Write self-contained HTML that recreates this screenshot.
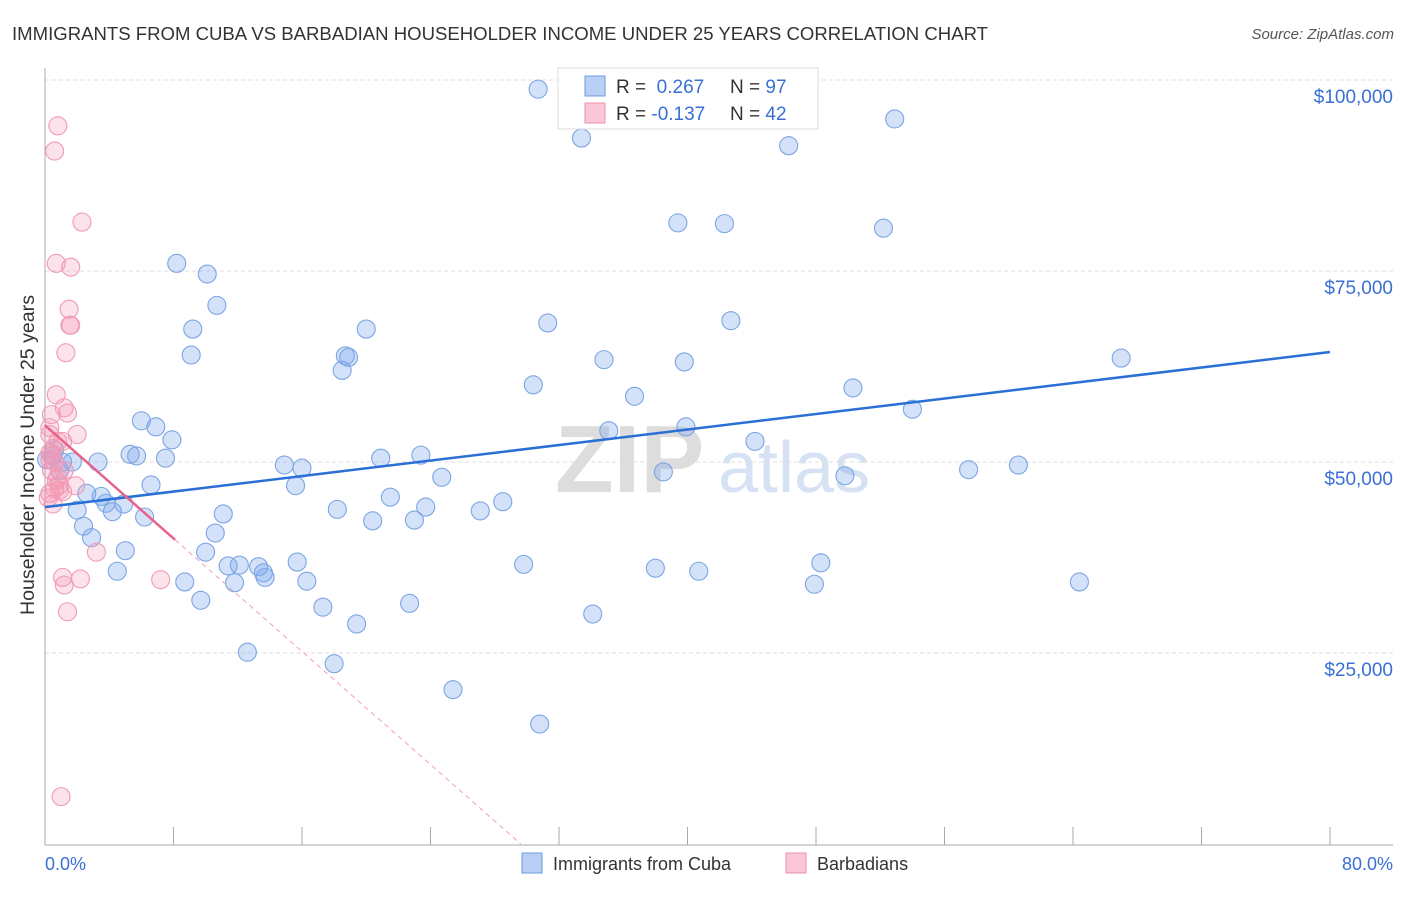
<!DOCTYPE html>
<html><head><meta charset="utf-8"><style>
body{margin:0;background:#fff;font-family:"Liberation Sans",sans-serif;}
svg text{font-family:"Liberation Sans",sans-serif;}
</style></head><body>
<svg width="1406" height="892" viewBox="0 0 1406 892">
<text x="12" y="40" font-size="18" fill="#333" textLength="976" lengthAdjust="spacingAndGlyphs">IMMIGRANTS FROM CUBA VS BARBADIAN HOUSEHOLDER INCOME UNDER 25 YEARS CORRELATION CHART</text>
<text x="1394" y="39" font-size="15" fill="#555" font-style="italic" text-anchor="end">Source: ZipAtlas.com</text>
<g><text x="555" y="492" font-size="96" fill="#ddd" font-family="Liberation Serif" font-weight="bold">ZIP</text><text x="718" y="492" font-size="72" fill="#d6e2f4">atlas</text></g>
<g id="grid"></g><g id="axes"></g><g id="marks"></g>
<text transform="translate(34,455) rotate(-90)" font-size="19" fill="#333" text-anchor="middle" textLength="320" lengthAdjust="spacingAndGlyphs">Householder Income Under 25 years</text>
<text x="45" y="870" font-size="18" fill="#3a6fd6">0.0%</text>
<text x="1393" y="870" font-size="18" fill="#3a6fd6" text-anchor="end">80.0%</text>
<g>
<rect x="558" y="68" width="260" height="61" fill="#fff" stroke="#ddd"/>
<rect x="585" y="76" width="20" height="20" fill="#b9d0f5" stroke="#6d9be0"/>
<rect x="585" y="103" width="20" height="20" fill="#fbc7d6" stroke="#ee8fae"/>
<text x="616" y="93" font-size="19" fill="#333">R = <tspan fill="#3a6fd6">&#160;0.267</tspan></text>
<text x="730" y="93" font-size="19" fill="#333">N = <tspan fill="#3a6fd6">97</tspan></text>
<text x="616" y="120" font-size="19" fill="#333">R = <tspan fill="#3a6fd6">-0.137</tspan></text>
<text x="730" y="120" font-size="19" fill="#333">N = <tspan fill="#3a6fd6">42</tspan></text>
</g>
<g>
<rect x="522" y="853" width="20" height="20" fill="#b9d0f5" stroke="#6d9be0"/>
<text x="553" y="870" font-size="18" fill="#333">Immigrants from Cuba</text>
<rect x="786" y="853" width="20" height="20" fill="#fbc7d6" stroke="#ee8fae"/>
<text x="817" y="870" font-size="18" fill="#333">Barbadians</text>
</g>
</svg>
<script>
const yTicks=[25000,50000,75000,100000];
const yTickLabels=["$25,000","$50,000","$75,000","$100,000"];
const xTicks=[0,8,16,24,32,40,48,56,64,72,80];
const cubaX=[30.7,33.4,46.3,52.9,39.4,42.3,52.2,8.2,10.1,10.7,9.2,9.1,20.0,31.3,42.7,18.7,18.9,18.5,34.8,39.8,67.0,30.4,36.7,50.3,54.0,6.0,6.9,7.9,5.3,5.7,7.5,3.3,1.7,1.1,0.5,35.1,39.9,44.2,14.9,16.0,20.9,23.4,24.7,38.5,49.8,57.5,60.6,6.6,15.6,2.6,3.5,3.8,4.9,4.2,2.0,6.2,11.1,21.5,28.5,18.2,23.7,27.1,20.4,23.0,2.4,2.9,10.6,5.0,10.0,4.5,11.4,12.1,13.3,13.6,13.7,15.7,29.8,38.0,40.7,48.3,8.7,11.8,16.3,47.9,64.4,9.7,17.3,22.7,34.1,19.4,12.6,18.0,25.4,30.8,0.9,0.6,0.1];
const cubaY=[98.8,92.4,91.4,94.9,81.3,81.2,80.6,76.0,74.6,70.5,67.4,64.0,67.4,68.2,68.5,63.9,63.7,62.0,63.4,63.1,63.6,60.1,58.6,59.7,56.9,55.4,54.6,52.9,51.0,50.8,50.5,50.0,50.0,50.0,50.9,54.1,54.6,52.7,49.6,49.2,50.5,50.9,48.0,48.7,48.2,49.0,49.6,47.0,46.9,45.9,45.5,44.6,44.5,43.5,43.7,42.8,43.2,45.4,44.8,43.8,44.1,43.6,42.3,42.4,41.6,40.1,40.7,38.4,38.2,35.7,36.4,36.5,36.3,35.5,34.9,36.9,36.6,36.1,35.7,36.8,34.3,34.2,34.4,34.0,34.3,31.9,31.0,31.5,30.1,28.8,25.1,23.6,20.2,15.7,48.9,51.6,50.3];
const barbX=[0.8,0.6,2.3,0.7,1.6,1.5,1.6,1.55,1.3,0.7,1.4,1.2,0.4,0.3,0.3,2.0,1.1,0.3,0.6,0.4,0.8,1.9,0.9,0.3,1.1,0.5,3.2,1.1,1.2,2.2,1.4,7.2,1.0,0.3,0.5,0.7,0.2,0.6,1.2,0.4,0.8,0.9];
const barbY=[94.0,90.7,81.4,76.0,75.5,70.0,67.9,67.9,64.3,58.8,56.4,57.1,56.2,54.5,53.6,53.6,52.7,50.3,50.0,48.9,48.0,46.9,47.0,45.9,46.1,44.5,38.2,34.9,33.9,34.7,30.4,34.6,6.2,51.2,51.8,47.6,45.3,46.5,48.9,50.8,52.7,46.3];
const cubaFit=[44.1,64.4];
const barbFit=[54.8,-1.85];
const barbSolidEnd=8.1;

const NS="http://www.w3.org/2000/svg";
const xs=p=>45+p/80*1285;
const ys=v=>80+(100-v)/25*191;
function mk(tag,attrs,parent){const e=document.createElementNS(NS,tag);for(const k in attrs)e.setAttribute(k,attrs[k]);document.getElementById(parent).appendChild(e);return e;}
yTicks.forEach((t,i)=>{
  const l=mk('line',{x1:45,x2:1393,y1:ys(t/1000),y2:ys(t/1000),stroke:'#ddd','stroke-dasharray':'4,3'},'grid');
  
  
  const tx=mk('text',{x:1393,y:ys(t/1000)+23,'font-size':19,fill:'#3a6fd6','text-anchor':'end'},'grid');
  tx.textContent=yTickLabels[i];
  
  
});
const ax=mk('line',{x1:45,x2:45,y1:68,y2:845,stroke:'#aaa'},'axes');


const bx=mk('line',{x1:45,x2:1393,y1:845,y2:845,stroke:'#aaa'},'axes');


xTicks.forEach(t=>{
  const l=mk('line',{x1:xs(t),x2:xs(t),y1:827,y2:845,stroke:'#aaa'},'axes');
  
  
});
cubaX.forEach((x,i)=>{
  const c=mk('circle',{cx:xs(x),cy:ys(cubaY[i]),r:9,fill:'rgba(120,165,235,0.32)',stroke:'#7ba5e4','stroke-width':1.1},'marks');
  
  
});
barbX.forEach((x,i)=>{
  const c=mk('circle',{cx:xs(x),cy:ys(barbY[i]),r:9,fill:'rgba(245,150,180,0.28)',stroke:'#f09ab5','stroke-width':1.1},'marks');
  
  
});
const cl=mk('line',{x1:xs(0),y1:ys(cubaFit[0]),x2:xs(80),y2:ys(cubaFit[1]),stroke:'#2a6fd6','stroke-width':2.5},'marks');


const bzero=-barbFit[0]/barbFit[1];
const bl=mk('line',{x1:xs(0),y1:ys(barbFit[0]),x2:xs(barbSolidEnd),y2:ys(barbFit[0]+barbFit[1]*barbSolidEnd),stroke:'#e8628a','stroke-width':2.5},'marks');


const bd=mk('line',{x1:xs(barbSolidEnd),y1:ys(barbFit[0]+barbFit[1]*barbSolidEnd),x2:xs(bzero),y2:ys(0),stroke:'#f0a0b8','stroke-width':1,'stroke-dasharray':'5,4'},'marks');


</script>
</body></html>
